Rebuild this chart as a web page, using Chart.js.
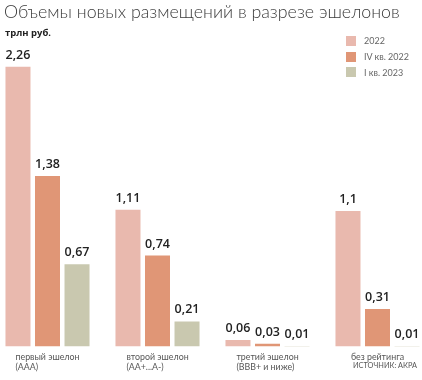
<!DOCTYPE html>
<html>
<head>
<meta charset="utf-8">
<script src="https://cdn.jsdelivr.net/npm/chart.js@4.4.1/dist/chart.umd.min.js"></script>
<style>
  html, body { margin: 0; padding: 0; background: #fff; }
  #wrap { position: relative; width: 422px; height: 380px; overflow: hidden; font-family: Lato, "Open Sans", sans-serif; }
  #c { position: absolute; left: 0; top: 0; }
  #title { position: absolute; left: 4px; top: 3px; font-size: 21px; font-weight: 300; color: #3a3a3a; white-space: nowrap; line-height: 1; }
  #unit { position: absolute; left: 5px; top: 26px; font-size: 11px; font-weight: 700; color: #222; font-family: "Open Sans", sans-serif; }
  #legend { position: absolute; left: 346px; top: 33px; font-size: 11px; color: #666; }
  .li { height: 15.7px; display: flex; align-items: center; white-space: nowrap; }
  .sw { width: 10px; height: 10px; margin-right: 8px; flex: none; }
  #src { position: absolute; left: 353px; top: 362px; font-size: 9.5px; color: #555; white-space: nowrap; line-height: 1; }
</style>
</head>
<body>
<div id="wrap">
  <canvas id="c" width="422" height="380"></canvas>
  <div id="title">Объемы новых размещений в разрезе эшелонов</div>
  <div id="unit">трлн руб.</div>
  <div id="legend"></div>
  <div id="src">ИСТОЧНИК: АКРА</div>
</div>
<script>
const categories = [
  ["первый эшелон", "(AAA)"],
  ["второй эшелон", "(AA+...A-)"],
  ["третий эшелон", "(BBB+ и ниже)"],
  ["без рейтинга"]
];
const seriesNames = ["2022", "IV кв. 2022", "I кв. 2023"];
const values2022 = [2.26, 1.11, 0.06, 1.1];
const valuesQ4_2022 = [1.38, 0.74, 0.03, 0.31];
const valuesQ1_2023 = [0.67, 0.21, 0.01, 0.01];
const colors = ["#E9B9AE", "#E09676", "#C9C8AF"];

const seriesValues = [values2022, valuesQ4_2022, valuesQ1_2023];

function fitWidth(el, target) {
  const fs = parseFloat(getComputedStyle(el).fontSize);
  const w = el.getBoundingClientRect().width;
  el.style.fontSize = (fs * target / w).toFixed(2) + 'px';
}

const valueLabels = {
  id: 'valueLabels',
  afterDatasetsDraw(chart) {
    const ctx = chart.ctx;
    ctx.save();
    ctx.font = '600 12.5px "Open Sans", sans-serif';
    ctx.fillStyle = '#222';
    ctx.textAlign = 'center';
    ctx.textBaseline = 'alphabetic';
    chart.data.datasets.forEach((ds, di) => {
      const meta = chart.getDatasetMeta(di);
      meta.data.forEach((bar, i) => {
        const v = ds.data[i];
        ctx.fillText(String(v).replace('.', ','), bar.x, bar.y - 7);
      });
    });
    ctx.restore();
  }
};

const catLabels = {
  id: 'catLabels',
  afterDraw(chart) {
    const ctx = chart.ctx;
    const xs = chart.scales.x;
    ctx.save();
    ctx.font = '400 10.5px Lato, sans-serif';
    // shrink to reference width of the first label line (~64px)
    const ref = ctx.measureText('первый эшелон').width;
    const fs = 10.5 * 64 / ref;
    ctx.font = '400 ' + fs.toFixed(2) + 'px Lato, sans-serif';
    ctx.fillStyle = '#555';
    ctx.textAlign = 'left';
    ctx.textBaseline = 'middle';
    chart.data.labels.forEach((lab, i) => {
      const lines = Array.isArray(lab) ? lab : [lab];
      const w = Math.max(...lines.map(l => ctx.measureText(l).width));
      const cx = xs.getPixelForValue(i);
      const x0 = cx - w / 2;
      lines.forEach((l, k) => ctx.fillText(l, x0, 357 + k * 10.5));
    });
    ctx.restore();
  }
};

const chart = new Chart(document.getElementById('c'), {
  type: 'bar',
  data: {
    labels: categories,
    datasets: seriesNames.map((name, k) => ({
      label: name,
      data: seriesValues[k],
      backgroundColor: colors[k],
      borderColor: 'rgba(255,255,255,0.6)',
      borderWidth: 1,
      categoryPercentage: 0.805,
      barPercentage: 0.915,
      clip: false
    }))
  },
  options: {
    responsive: false,
    animation: false,
    devicePixelRatio: 1,
    layout: { padding: { left: 47.5, right: 44.5, top: 36, bottom: 33.5 } },
    plugins: { legend: { display: false }, tooltip: { enabled: false } },
    scales: {
      x: { type: 'category', offset: false, display: false },
      y: { display: false, min: 0, max: 2.5 }
    }
  },
  plugins: [valueLabels, catLabels]
});

const legendEl = document.getElementById('legend');
chart.data.datasets.forEach(ds => {
  const row = document.createElement('div');
  row.className = 'li';
  const sw = document.createElement('span');
  sw.className = 'sw';
  sw.style.background = ds.backgroundColor;
  const t = document.createElement('span');
  t.textContent = ds.label;
  row.appendChild(sw); row.appendChild(t);
  legendEl.appendChild(row);
});

fitWidth(document.getElementById('title'), 396);
fitWidth(document.getElementById('src'), 64);
fitWidth(document.getElementById('unit'), 46);
const l2 = legendEl.children[1].lastChild;
const lfs = parseFloat(getComputedStyle(legendEl).fontSize);
legendEl.style.fontSize = (lfs * 45 / l2.getBoundingClientRect().width).toFixed(2) + 'px';
</script>
</body>
</html>
